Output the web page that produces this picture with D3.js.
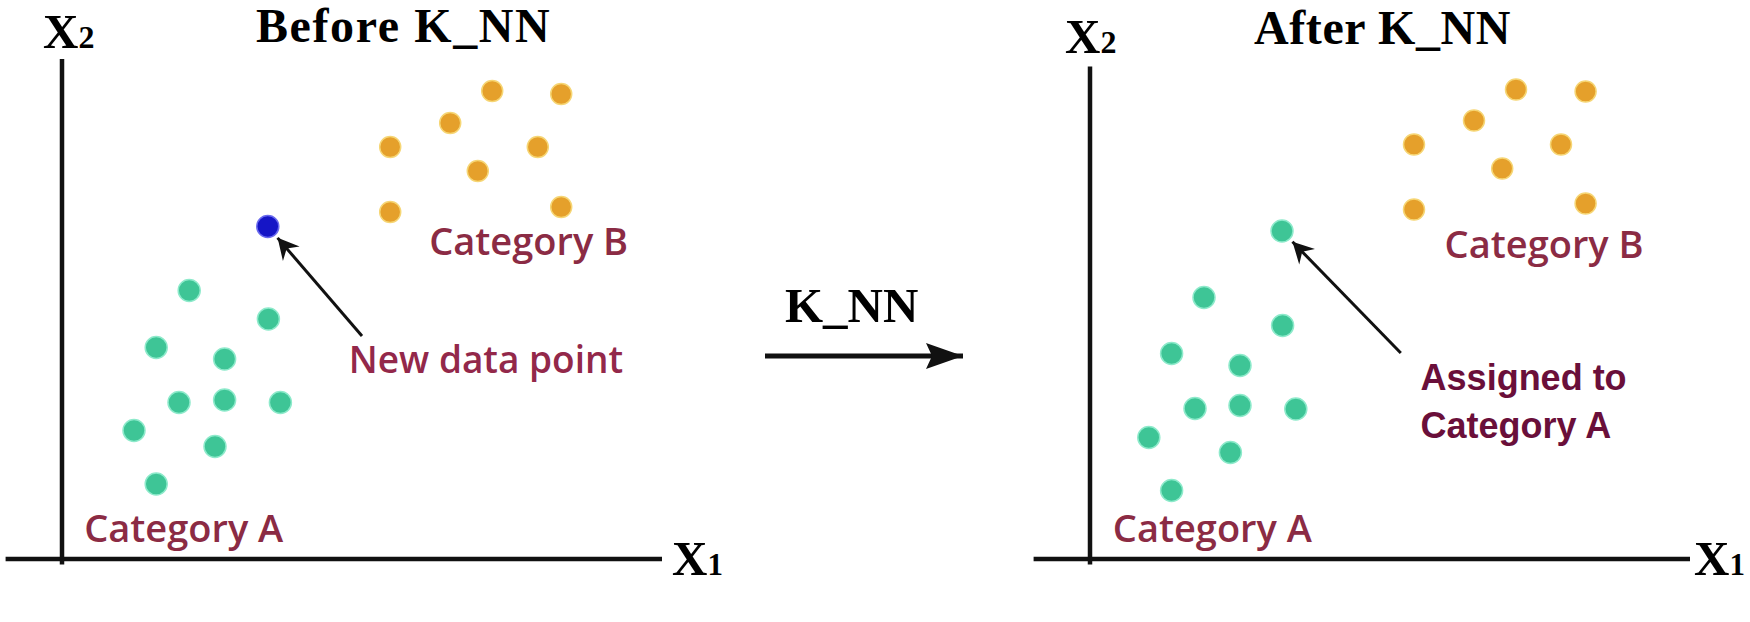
<!DOCTYPE html>
<html><head><meta charset="utf-8">
<script src="https://cdn.jsdelivr.net/npm/d3@7"></script>
<style>html,body{margin:0;padding:0;background:#fff;overflow:hidden}</style>
</head><body><svg id="c" width="1750" height="622"></svg>
<script>
// ---------- data (x1, x2 in arbitrary feature units) ----------
const titles = ["Before K_NN", "After K_NN"];
const middleLabel = "K_NN";
const categoryLabels = ["Category A", "Category B"];
const newPointLabel = ["New data point"];
const assignedLabel = ["Assigned to", "Category A"];

const beforeA = [[2.12,5.37],[3.44,4.80],[1.57,4.23],[2.71,4.00],[1.95,3.13],[2.71,3.18],[3.64,3.13],[1.20,2.57],[2.55,2.25],[1.57,1.50]];
const beforeB = [[7.17,9.36],[8.32,9.30],[6.47,8.72],[5.47,8.24],[7.93,8.24],[6.93,7.76],[5.47,6.94],[8.32,7.04]];
const beforeNew = [3.43,6.65];

const afterA = [[1.90,5.23],[3.21,4.67],[1.36,4.11],[2.50,3.87],[1.75,3.01],[2.50,3.07],[3.43,3.00],[0.98,2.43],[2.34,2.13],[1.36,1.37]];
const afterB = [[7.10,9.39],[8.26,9.35],[6.40,8.77],[5.40,8.29],[7.85,8.29],[6.87,7.81],[5.40,6.99],[8.26,7.11]];
const afterNew = [3.20,6.56];

// ---------- layout ----------
const svg = d3.select("#c");
svg.append("rect").attr("width",1750).attr("height",622).attr("fill","#fff");

const defs = svg.append("defs");
defs.append("marker").attr("id","headSmall").attr("viewBox","-24 -12 26 24")
  .attr("refX",0).attr("refY",0).attr("markerWidth",26).attr("markerHeight",24)
  .attr("markerUnits","userSpaceOnUse").attr("orient","auto")
  .append("path").attr("d","M0,0 L-21,-11 L-14,0 L-21,11 Z").attr("fill","#111");
defs.append("marker").attr("id","headBig").attr("viewBox","-38 -15 40 30")
  .attr("refX",0).attr("refY",0).attr("markerWidth",40).attr("markerHeight",30)
  .attr("markerUnits","userSpaceOnUse").attr("orient","auto")
  .append("path").attr("d","M0,0 L-37,-13 L-31,0 L-37,13 Z").attr("fill","#111");

const serif = "'Times New Roman','Liberation Serif',serif";
const labelFont = "'Open Sans','Noto Sans',sans-serif";
const labelColor = "#8b2b44";

const panels = [
  {title:titles[0], ox:62, oy:559, yTop:10.0, A:beforeA, B:beforeB, nw:beforeNew, nwFill:"#1515c6", nwStroke:"#6a6aee",
   titleX:256, titleY:42, titleLS:1.6, x2X:43, x2Y:48, x1Off:10, tail:[5.0,4.46],
   labA:[0.37,0.34], labB:[6.12,6.08], note:newPointLabel, noteXY:[4.78,3.72], noteFont:labelFont, noteWeight:600, noteSize:37, noteColor:"#93284a"},
  {title:titles[1], ox:1090, oy:559, yTop:9.85, A:afterA, B:afterB, nw:afterNew, nwFill:"#3ec596", nwStroke:"#8eeacb",
   titleX:1254, titleY:44, titleLS:0.6, x2X:1065, x2Y:53, x1Off:4, tail:[5.18,4.12],
   labA:[0.38,0.34], labB:[5.91,6.02], note:assignedLabel, noteXY:[5.51,3.38], noteFont:"'Liberation Sans',Arial,sans-serif", noteWeight:700, noteSize:36, noteColor:"#6a0f3a"}
];

panels.forEach(p => {
  const x = d3.scaleLinear().domain([0,10]).range([p.ox, p.ox+600]);
  const y = d3.scaleLinear().domain([0,10]).range([p.oy, p.oy-500]);
  const g = svg.append("g");

  // axes
  g.append("line").attr("x1",x(-0.94)).attr("x2",x(10)).attr("y1",y(0)).attr("y2",y(0))
    .attr("stroke","#111").attr("stroke-width",4.5);
  g.append("line").attr("x1",x(0)).attr("x2",x(0)).attr("y1",y(-0.11)).attr("y2",y(p.yTop))
    .attr("stroke","#111").attr("stroke-width",4.5);

  // axis labels
  const xl = g.append("text").attr("x",x(10)+p.x1Off).attr("y",y(0)+16)
    .attr("font-family",serif).attr("font-weight",700).attr("fill","#000");
  xl.append("tspan").attr("font-size",49).text("X");
  xl.append("tspan").attr("font-size",31).text("1");
  const yl = g.append("text").attr("x",p.x2X).attr("y",p.x2Y)
    .attr("font-family",serif).attr("font-weight",700).attr("fill","#000");
  yl.append("tspan").attr("font-size",49).text("X");
  yl.append("tspan").attr("font-size",32).text("2");

  // title
  g.append("text").attr("x",p.titleX).attr("y",p.titleY).attr("font-family",serif)
    .attr("font-weight",700).attr("font-size",48).attr("letter-spacing",p.titleLS)
    .attr("fill","#000").text(p.title);

  // points
  g.selectAll(".b").data(p.B).join("circle").attr("cx",d=>x(d[0])).attr("cy",d=>y(d[1]))
    .attr("r",10.5).attr("fill","#e5a02b").attr("stroke","#f6d675").attr("stroke-width",1.5);
  g.selectAll(".a").data(p.A).join("circle").attr("cx",d=>x(d[0])).attr("cy",d=>y(d[1]))
    .attr("r",11).attr("fill","#3ec596").attr("stroke","#8eeacb").attr("stroke-width",1.5);
  g.append("circle").attr("cx",x(p.nw[0])).attr("cy",y(p.nw[1])).attr("r",11)
    .attr("fill",p.nwFill).attr("stroke",p.nwStroke).attr("stroke-width",1.5);

  // annotation arrow
  const tx = x(p.tail[0]), ty = y(p.tail[1]);
  const nx = x(p.nw[0]), ny = y(p.nw[1]);
  const dx = tx-nx, dy = ty-ny, L = Math.hypot(dx,dy), off = 15;
  g.append("line").attr("x1",tx).attr("y1",ty).attr("x2",nx+dx/L*off).attr("y2",ny+dy/L*off)
    .attr("stroke","#111").attr("stroke-width",3).attr("marker-end","url(#headSmall)");

  // category labels
  [[p.labA,categoryLabels[0]],[p.labB,categoryLabels[1]]].forEach(([pos,t]) => {
    g.append("text").attr("x",x(pos[0])).attr("y",y(pos[1])).attr("font-family",labelFont)
      .attr("font-weight",600).attr("font-size",38).attr("fill",labelColor).text(t);
  });
  // note label
  p.note.forEach((t,i) => {
    g.append("text").attr("x",x(p.noteXY[0])).attr("y",y(p.noteXY[1])+i*48)
      .attr("font-family",p.noteFont).attr("font-weight",p.noteWeight).attr("font-size",p.noteSize)
      .attr("fill",p.noteColor).text(t);
  });
});

// middle transition arrow
svg.append("text").attr("x",785).attr("y",322).attr("font-family",serif).attr("font-weight",700)
  .attr("font-size",49).attr("fill","#000").text(middleLabel);
svg.append("line").attr("x1",765).attr("x2",963).attr("y1",356).attr("y2",356)
  .attr("stroke","#111").attr("stroke-width",5).attr("marker-end","url(#headBig)");
</script></body></html>
